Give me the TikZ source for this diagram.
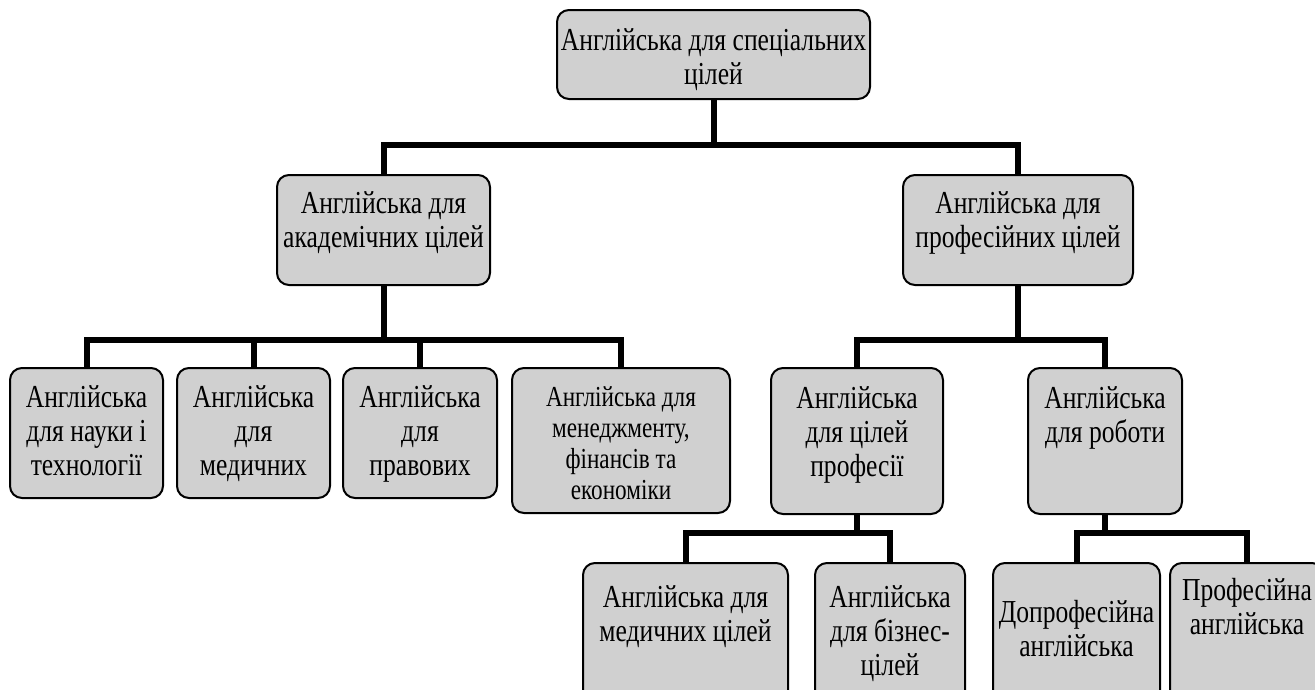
\documentclass[tikz,border=0pt]{standalone}
\usepackage{fontspec}
\setmainfont{Liberation Serif}[FakeStretch=0.8]
\definecolor{boxgray}{RGB}{208,208,208}
\newcommand{\bt}[5]{\parbox[c][#2][t]{#1}{\vspace*{#3}\centering\rule{0pt}{#4}#5}}
\tikzset{
  box/.style={draw=black, line width=2pt, fill=boxgray, rounded corners=12pt, inner sep=0pt,
    font=\fontsize{32}{34}\selectfont},
  smallbox/.style={box, font=\fontsize{29}{31}\selectfont},
  conn/.style={draw=black, line width=6pt, line join=miter}
}
\begin{document}
\begin{tikzpicture}[x=1pt,y=-1pt]
\useasboundingbox (0,0) rectangle (1315,689);
\clip (0,0) rectangle (1315,689);
% nodes
\node[box] (root) at (713.5,54.5) {\bt{313pt}{89pt}{16pt}{24pt}{Англійська для спеціальних\\ цілей}};
\node[box] (acad) at (383.5,230) {\bt{213pt}{110pt}{14pt}{24pt}{Англійська для\\ академічних цілей}};
\node[box] (prof) at (1018,230) {\bt{230pt}{110pt}{14pt}{24pt}{Англійська для\\ професійних цілей}};
\node[box] (b1) at (86.5,433) {\bt{153pt}{130pt}{15pt}{24pt}{Англійська\\ для науки і\\ технології}};
\node[box] (b2) at (253.5,433) {\bt{153pt}{130pt}{15pt}{24pt}{Англійська\\ для\\ медичних}};
\node[box] (b3) at (420,433) {\bt{154pt}{130pt}{15pt}{24pt}{Англійська\\ для\\ правових}};
\node[smallbox] (b4) at (621,440.5) {\bt{218pt}{145pt}{16pt}{22pt}{Англійська для\\ менеджменту,\\ фінансів та\\ економіки}};
\node[box] (c1) at (857,441) {\bt{172pt}{146pt}{16pt}{24pt}{Англійська\\ для цілей\\ професії}};
\node[box] (c2) at (1105,441) {\bt{154pt}{146pt}{16pt}{24pt}{Англійська\\ для роботи}};
\node[box] (d1) at (685.5,641.5) {\bt{205pt}{157pt}{20pt}{24pt}{Англійська для\\ медичних цілей}};
\node[box] (d2) at (890,641.5) {\bt{150pt}{157pt}{20pt}{24pt}{Англійська\\ для бізнес-\\ цілей}};
\node[box] (d3) at (1076.5,641.5) {\bt{167pt}{157pt}{35pt}{24pt}{Допрофесійна\\ англійська}};
\node[box] (d4) at (1247,641.5) {\bt{154pt}{157pt}{13pt}{24pt}{Професійна\\ англійська}};
% junctions
\coordinate (j1) at (713.5,145);
\coordinate (j2) at (383.5,340);
\coordinate (j3) at (1018,340);
\coordinate (j4) at (857,533);
\coordinate (j5) at (1105,533);
% connectors
\draw[conn] (root.south) -- (j1);
\draw[conn] (acad.north) -- (acad.north |- j1) -- (prof.north |- j1) -- (prof.north);
\draw[conn] (acad.south) -- (j2);
\draw[conn] (b1.north) -- (b1.north |- j2) -- (b4.north |- j2) -- (b4.north);
\draw[conn] (b2.north) -- (b2.north |- j2);
\draw[conn] (b3.north) -- (b3.north |- j2);
\draw[conn] (prof.south) -- (j3);
\draw[conn] (c1.north) -- (c1.north |- j3) -- (c2.north |- j3) -- (c2.north);
\draw[conn] (c1.south) -- (j4);
\draw[conn] (d1.north) -- (d1.north |- j4) -- (d2.north |- j4) -- (d2.north);
\draw[conn] (c2.south) -- (j5);
\draw[conn] (d3.north) -- (d3.north |- j5) -- (d4.north |- j5) -- (d4.north);
\end{tikzpicture}
\end{document}
